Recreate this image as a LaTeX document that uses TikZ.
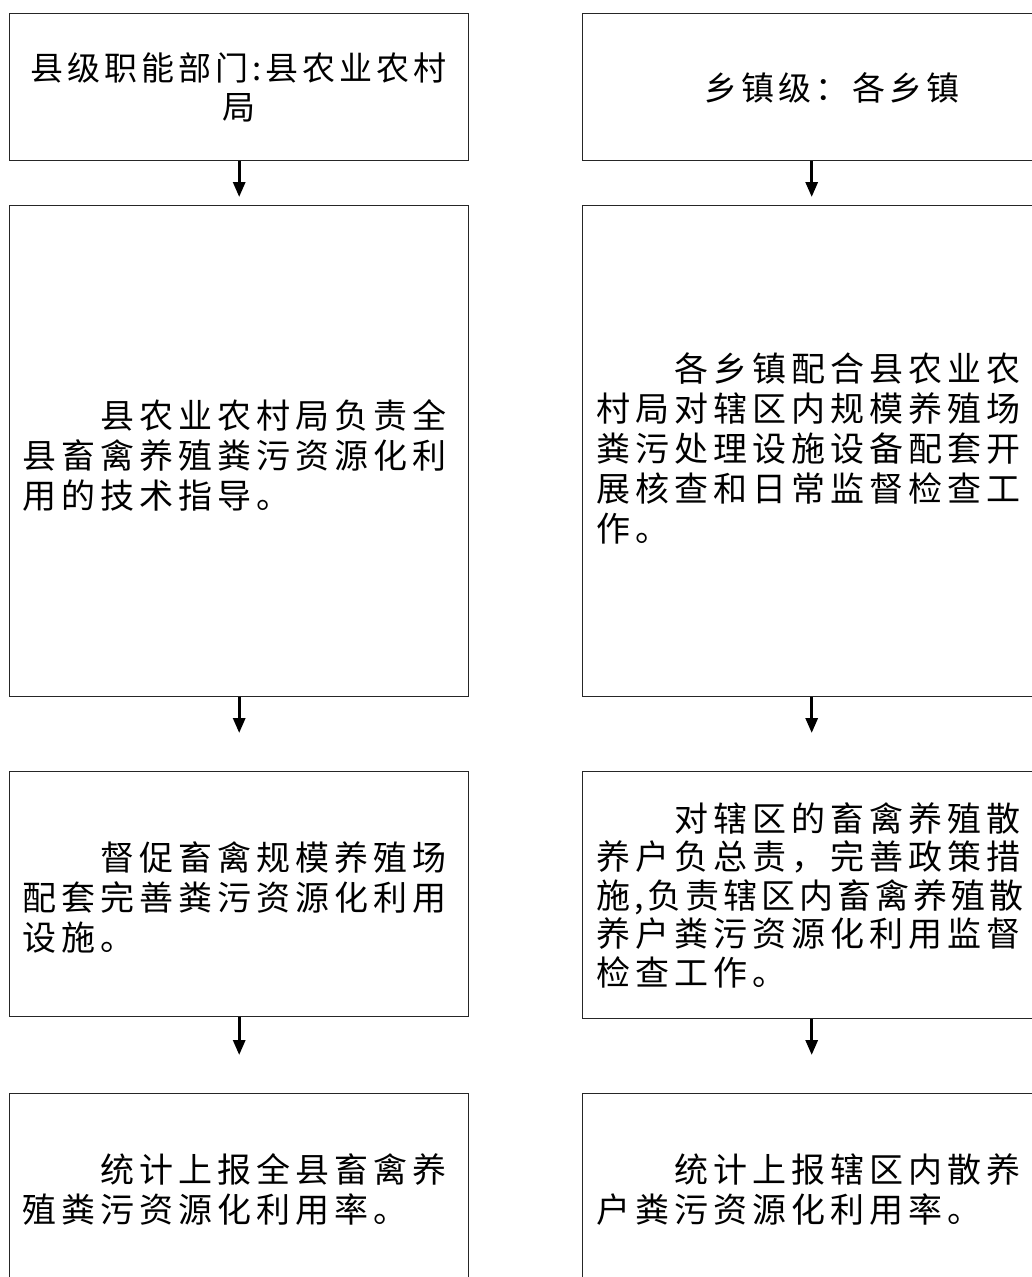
\documentclass[tikz,border=0pt]{standalone}
\usepackage{fontspec}
\newfontfamily\cjkbody[LetterSpace=14.7]{Noto Sans CJK SC}
\newfontfamily\cjktitle[LetterSpace=12]{Noto Sans CJK SC}
\usetikzlibrary{arrows.meta}
\newcommand\ctrline[1]{\hbox to 440pt{\hfil#1\hfil}}
\begin{document}
\begin{tikzpicture}[x=1pt,y=-1pt,
  box/.style={draw=black!85,line width=1.4pt,rectangle,inner sep=0pt,anchor=north west,minimum width=459pt},
  rbox/.style={box,minimum width=458pt},
  body/.style={anchor=base west,inner sep=0pt,font=\cjkbody\fontsize{34pt}{40pt}\selectfont},
  title/.style={anchor=base,inner sep=0pt,font=\cjktitle\fontsize{33pt}{38pt}\selectfont},
  flow/.style={-{Triangle[length=15pt,width=12pt]},line width=3pt,black}]
\useasboundingbox (0,0) rectangle (1032,1277);

% left column boxes
\node[box,minimum height=147pt] (L1) at (9,13) {};
\node[box,minimum height=491pt] (L2) at (9,205) {};
\node[box,minimum height=245pt] (L3) at (9,771) {};
\node[box,minimum height=197pt] (L4) at (9,1093) {};
% right column boxes
\node[rbox,minimum height=147pt] (R1) at (582,13) {};
\node[rbox,minimum height=491pt] (R2) at (582,205) {};
\node[rbox,minimum height=247pt] (R3) at (582,771) {};
\node[rbox,minimum height=197pt] (R4) at (582,1093) {};

% titles
\node[title] (L1t) at (238.5,80) {\vtop{\baselineskip=39pt\lineskiplimit=-1000pt
  \ctrline{县级职能部门:县农业农村}\ctrline{局}}};
\node[title] (R1t) at (832,100) {乡镇级：各乡镇};

% body texts
\node[body] (L2t) at (22,428) {\vtop{\baselineskip=40pt\lineskiplimit=-1000pt
  \hbox{\kern78pt 县农业农村局负责全}
  \hbox{县畜禽养殖粪污资源化利}
  \hbox{用的技术指导。}}};
\node[body] (R2t) at (596,381) {\vtop{\baselineskip=40pt\lineskiplimit=-1000pt
  \hbox{\kern78pt 各乡镇配合县农业农}
  \hbox{村局对辖区内规模养殖场}
  \hbox{粪污处理设施设备配套开}
  \hbox{展核查和日常监督检查工}
  \hbox{作。}}};
\node[body] (L3t) at (22,870) {\vtop{\baselineskip=40pt\lineskiplimit=-1000pt
  \hbox{\kern78pt 督促畜禽规模养殖场}
  \hbox{配套完善粪污资源化利用}
  \hbox{设施。}}};
\node[body] (R3t) at (596,831) {\vtop{\baselineskip=38.5pt\lineskiplimit=-1000pt
  \hbox{\kern78pt 对辖区的畜禽养殖散}
  \hbox{养户负总责，完善政策措}
  \hbox{\addfontfeature{LetterSpace=11.6}施,负责辖区内畜禽养殖散}
  \hbox{养户粪污资源化利用监督}
  \hbox{检查工作。}}};
\node[body] (L4t) at (22,1182) {\vtop{\baselineskip=40pt\lineskiplimit=-1000pt
  \hbox{\kern78pt 统计上报全县畜禽养}
  \hbox{殖粪污资源化利用率。}}};
\node[body] (R4t) at (596,1182) {\vtop{\baselineskip=40pt\lineskiplimit=-1000pt
  \hbox{\kern78pt 统计上报辖区内散养}
  \hbox{户粪污资源化利用率。}}};

% connectors
\draw[flow,shorten >=8pt] (L1.south) -- (L2.north);
\draw[flow,shorten >=38pt] (L2.south) -- (L3.north);
\draw[flow,shorten >=38pt] (L3.south) -- (L4.north);
\draw[flow,shorten >=8pt] (R1.south) -- (R2.north);
\draw[flow,shorten >=38pt] (R2.south) -- (R3.north);
\draw[flow,shorten >=38pt] (R3.south) -- (R4.north);
\end{tikzpicture}
\end{document}
